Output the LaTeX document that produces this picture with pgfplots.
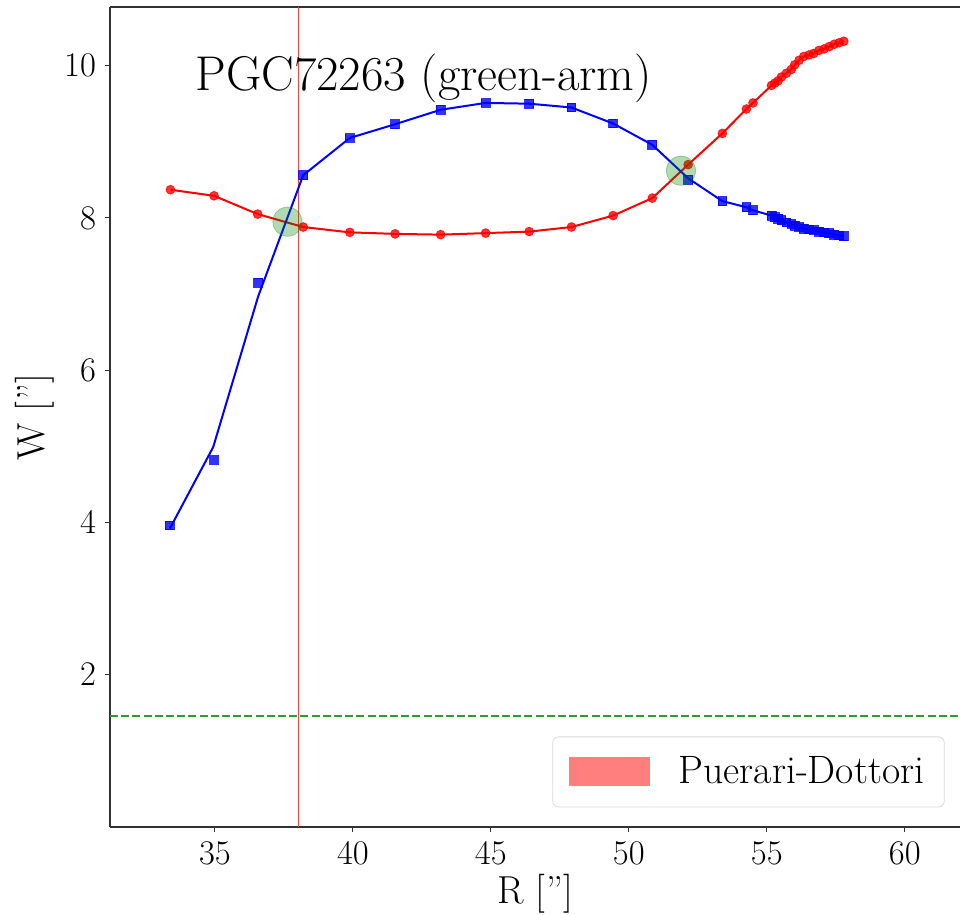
\documentclass[border=0pt]{standalone}
\usepackage{pgfplots}
\pgfplotsset{compat=1.18}
\definecolor{dgreen}{rgb}{0.18,0.62,0.18}
\begin{document}
\begin{tikzpicture}
\begin{axis}[
  scale only axis,
  width=425pt, height=410pt,
  xmin=31.2, xmax=62.0, ymin=0, ymax=10.77,
  axis x line=box, axis y line=left,
  axis line style={-, black!80, line width=0.6pt},
  xtick={35,40,45,50,55,60},
  ytick={2,4,6,8,10},
  xtick pos=bottom, ytick pos=left,
  tick align=outside,
  major tick length=2.5pt,
  tick style={black!80, line width=0.6pt},
  ticklabel style={font=\fontsize{16.5}{19}\selectfont},
  xticklabel style={yshift=-1.5pt},
  yticklabel style={xshift=-1pt},
  xlabel={R [\kern0.5pt'']},
  ylabel={W [\kern0.5pt'']},
  label style={font=\fontsize{19.5}{23}\selectfont},
  xlabel style={yshift=2pt},
  ylabel style={yshift=-2pt},
  clip=true,
  legend cell align=left,
  legend style={at={(0.982,0.024)}, anchor=south east, draw=black!15, rounded corners=3pt,
    font=\fontsize{19.8}{23}\selectfont, inner xsep=8pt, inner ysep=8pt, fill=white},
]
% green dashed threshold
\addplot[forget plot, color=dgreen, line width=1.1pt, dash pattern=on 4pt off 1.6pt] coordinates {(31.2,1.455) (62,1.455)};
% vertical line
\addplot[forget plot, color=red!75, line width=0.5pt] coordinates {(38.03,0) (38.03,10.77)};
% red line
\addplot[forget plot, color=red, line width=1pt, mark=none] coordinates {
(33.39,8.37) (34.97,8.29) (36.55,8.05) (38.20,7.88) (39.89,7.81) (41.53,7.79)
(43.18,7.78) (44.81,7.80) (46.39,7.82) (47.92,7.88) (49.43,8.03) (50.85,8.26)
(52.15,8.70) (53.39,9.11) (54.26,9.43) (54.50,9.51) (55.17,9.74) (55.29,9.77)
(55.41,9.80) (55.53,9.85) (55.71,9.90) (55.89,9.95) (56.01,10.01) (56.17,10.07)
(56.34,10.12) (56.53,10.14) (56.70,10.16) (56.89,10.20) (57.08,10.22) (57.26,10.25)
(57.44,10.28) (57.62,10.30) (57.79,10.32)};
% red markers
\addplot[forget plot, only marks, mark=*, color=red, mark size=2.2pt, opacity=0.8] coordinates {
(33.39,8.37) (34.97,8.29) (36.55,8.05) (38.20,7.88) (39.89,7.81) (41.53,7.79)
(43.18,7.78) (44.81,7.80) (46.39,7.82) (47.92,7.88) (49.43,8.03) (50.85,8.26)
(52.15,8.70) (53.39,9.11) (54.26,9.43) (54.50,9.51) (55.17,9.74) (55.29,9.77)
(55.41,9.80) (55.53,9.85) (55.71,9.90) (55.89,9.95) (56.01,10.01) (56.17,10.07)
(56.34,10.12) (56.53,10.14) (56.70,10.16) (56.89,10.20) (57.08,10.22) (57.26,10.25)
(57.44,10.28) (57.62,10.30) (57.79,10.32)};
% blue line
\addplot[forget plot, color=blue, line width=1pt, mark=none] coordinates {
(33.37,3.92) (34.94,4.99) (36.57,6.97) (38.20,8.56) (39.89,9.05) (41.53,9.23)
(43.18,9.42) (44.81,9.51) (46.39,9.50) (47.92,9.45) (49.43,9.24) (50.85,8.96)
(52.15,8.52) (53.39,8.22) (54.26,8.14) (54.50,8.10) (55.17,8.03) (55.29,8.01)
(55.41,7.99) (55.53,7.97) (55.71,7.94) (55.89,7.92) (56.01,7.90) (56.17,7.88)
(56.34,7.86) (56.53,7.85) (56.70,7.84) (56.89,7.82) (57.08,7.81) (57.26,7.80)
(57.44,7.78) (57.62,7.77) (57.79,7.76)};
% blue markers
\addplot[forget plot, only marks, mark=square*, color=blue, mark size=2.2pt, opacity=0.8] coordinates {
(33.37,3.96) (34.97,4.82) (36.57,7.15) (38.20,8.56) (39.89,9.05) (41.53,9.23)
(43.18,9.42) (44.81,9.51) (46.39,9.50) (47.92,9.45) (49.43,9.24) (50.85,8.96)
(52.15,8.50) (53.39,8.22) (54.26,8.14) (54.50,8.10) (55.17,8.03) (55.29,8.01)
(55.41,7.99) (55.53,7.97) (55.71,7.94) (55.89,7.92) (56.01,7.90) (56.17,7.88)
(56.34,7.86) (56.53,7.85) (56.70,7.84) (56.89,7.82) (57.08,7.81) (57.26,7.80)
(57.44,7.78) (57.62,7.77) (57.79,7.76)};
% crossing points
\addplot[forget plot, only marks, mark=*, color=green!50!black, mark size=7.3pt, opacity=0.3] coordinates {(37.63,7.95) (51.89,8.62)};
\addlegendimage{legend image code/.code={\fill[draw=none, sharp corners, red, fill opacity=0.5] (0pt,-7.2pt) rectangle (40.5pt,7.2pt); \path[draw=none] (0pt,0pt) -- (53pt,0pt);}}
\addlegendentry{Puerari-Dottori}
\node[anchor=base west, font=\fontsize{24.4}{28}\selectfont, inner sep=0pt] at (rel axis cs:0.1,0.898) {PGC72263 (green-arm)};
\end{axis}
\pgfresetboundingbox
\path[use as bounding box] ([xshift=-55pt, yshift=-44pt]current axis.south west) rectangle ([yshift=3.5pt]current axis.north east);
\end{tikzpicture}
\end{document}
